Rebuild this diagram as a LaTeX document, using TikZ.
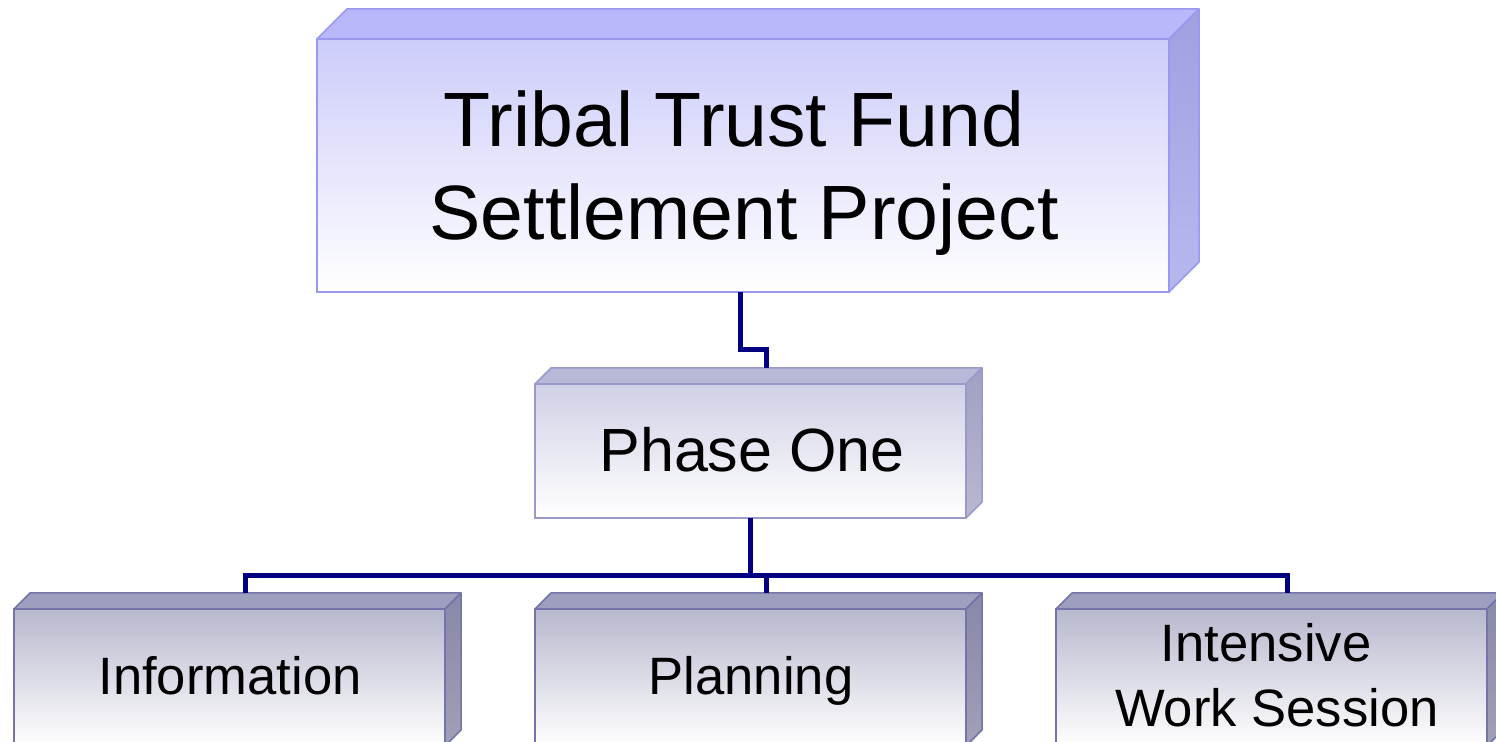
\documentclass[tikz,border=0pt]{standalone}
\usepackage{fontspec}
\setmainfont{Liberation Sans}
\usetikzlibrary{calc}
\definecolor{tTop}{HTML}{B8B8FA}
\definecolor{tFront}{HTML}{CCCCFA}
\definecolor{tSideT}{HTML}{A0A0E2}
\definecolor{tSideB}{HTML}{B8B8F0}
\definecolor{tBorder}{HTML}{9999F0}
\definecolor{pTop}{HTML}{B8B8D8}
\definecolor{pFront}{HTML}{D0D0E6}
\definecolor{pSideT}{HTML}{A0A0C2}
\definecolor{pSideB}{HTML}{B8B8D0}
\definecolor{pBorder}{HTML}{9999CC}
\definecolor{bTop}{HTML}{9E9EBE}
\definecolor{bFront}{HTML}{B8B8CE}
\definecolor{bSideT}{HTML}{8888A8}
\definecolor{bSideB}{HTML}{A0A0B8}
\definecolor{bBorder}{HTML}{7474AA}
\definecolor{navyline}{HTML}{000080}
\newcommand\boxfaces[6]{%
  \draw[#6, line width=0.75pt, line join=round, fill=#3] (#1.north west) -- ++(#2,-#2) -- ($(#1.north east)+(#2,-#2)$) -- (#1.north east) -- cycle;
  \draw[#6, line width=0.75pt, line join=round, top color=#4, bottom color=#5] (#1.north east) -- ++(#2,-#2) -- ($(#1.south east)+(#2,-#2)$) -- (#1.south east) -- cycle;
}
\begin{document}
\begin{tikzpicture}[x=0.5pt,y=-0.5pt,
  frontbox/.style={draw, inner sep=0pt, outer sep=0pt, line width=0.75pt},
  topfront/.style={frontbox, draw=tBorder, top color=tFront, bottom color=white, minimum width=426pt, minimum height=126.5pt},
  phfront/.style={frontbox, draw=pBorder, top color=pFront, bottom color=white, minimum width=215.5pt, minimum height=67pt},
  botfront/.style={frontbox, draw=bBorder, top color=bFront, bottom color=white, minimum width=215.5pt, minimum height=68.5pt},
  toptext/.style={inner sep=0pt, anchor=base, font=\fontsize{38.5}{46.5}\selectfont},
  phtext/.style={inner sep=0pt, anchor=base, font=\fontsize{30.5}{36}\selectfont},
  bottext/.style={inner sep=0pt, anchor=base, font=\fontsize{26.3}{33}\selectfont},
  conn/.style={draw=navyline, line width=2.5pt}
]
\clip (0,0) rectangle (1496,742);
% connectors (behind boxes)
% boxes
\node[topfront] (top) at (743,165.5) {};
\boxfaces{top}{30}{tTop}{tSideT}{tSideB}{tBorder}
\node[phfront] (phase) at (750.5,451) {};
\boxfaces{phase}{16}{pTop}{pSideT}{pSideB}{pBorder}
\node[botfront] (info) at (229.5,677.5) {};
\boxfaces{info}{16}{bTop}{bSideT}{bSideB}{bBorder}
\node[botfront] (plan) at (750.5,677.5) {};
\boxfaces{plan}{16}{bTop}{bSideT}{bSideB}{bBorder}
\node[botfront] (work) at (1271.5,677.5) {};
\boxfaces{work}{16}{bTop}{bSideT}{bSideB}{bBorder}
% texts
\node[toptext] (t1) at (734,147) {Tribal Trust Fund};
\node[toptext] (t2) at (744,240) {Settlement Project};
\node[phtext] (pt) at (752,472) {Phase One};
\node[bottext] (it) at (230,695) {Information};
\node[bottext] (plt) at (751,695) {Planning};
\node[bottext] (w1) at (1266,662) {Intensive};
\node[bottext] (w2) at (1277,727) {Work Session};
% back-top centres of boxes
\coordinate (phb) at ($(phase.north)+(16,-16)$);
\coordinate (ib) at ($(info.north)+(16,-16)$);
\coordinate (pb) at ($(plan.north)+(16,-16)$);
\coordinate (wb) at ($(work.north)+(16,-16)$);
% connectors
\draw[conn] ([xshift=-1.5pt]top.south) -- ++(0,58) -| (phb);
\draw[conn] (phase.south) -- ++(0,58);
\draw[conn] (ib) -- ++(0,-17) -| (wb);
\draw[conn] (pb) -- ++(0,-17);
\end{tikzpicture}
\end{document}
